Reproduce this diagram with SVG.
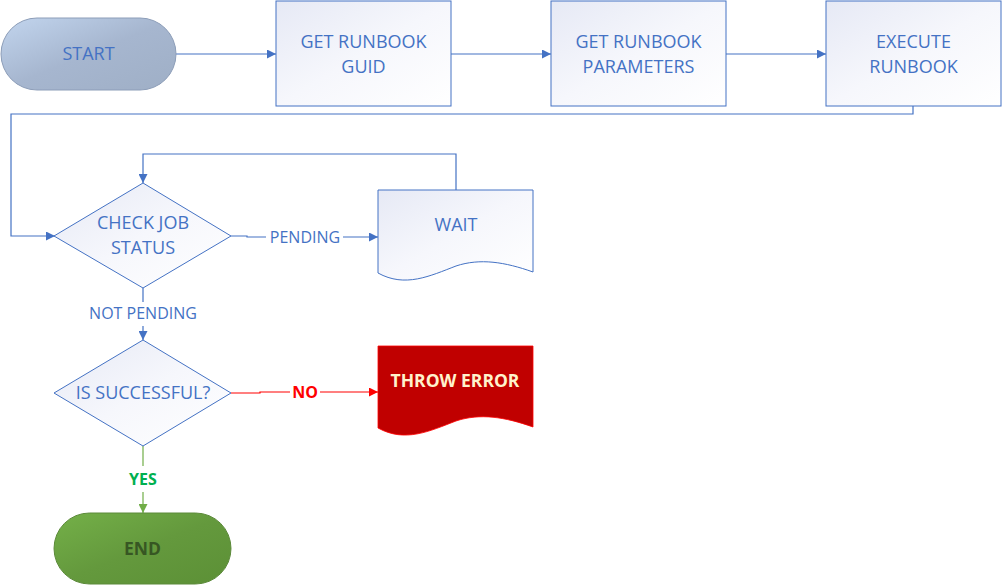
<svg xmlns="http://www.w3.org/2000/svg" width="1003" height="585" viewBox="0 0 1003 585">
<defs>
<linearGradient id="gBox" x1="0" y1="0" x2="1" y2="1">
<stop offset="0" stop-color="#E6E9F5"/><stop offset="0.5" stop-color="#F6F7FC"/><stop offset="1" stop-color="#FFFFFF"/>
</linearGradient>
<linearGradient id="gStart" x1="0" y1="0" x2="1" y2="1">
<stop offset="0" stop-color="#C2D5EE"/><stop offset="0.5" stop-color="#A6B6CF"/><stop offset="1" stop-color="#9FAFC6"/>
</linearGradient>
<linearGradient id="gEnd" x1="0" y1="0" x2="1" y2="1">
<stop offset="0" stop-color="#74B048"/><stop offset="0.5" stop-color="#64993D"/><stop offset="1" stop-color="#5C9036"/>
</linearGradient>
<marker id="aBlue" viewBox="0 0 10 10" refX="10" refY="5" markerWidth="9" markerHeight="9" markerUnits="userSpaceOnUse" orient="auto"><path d="M0,0 L10,5 L0,10 z" fill="#4472C4"/></marker>
<marker id="aRed" viewBox="0 0 10 10" refX="10" refY="5" markerWidth="9" markerHeight="9" markerUnits="userSpaceOnUse" orient="auto"><path d="M0,0 L10,5 L0,10 z" fill="#FF0000"/></marker>
<marker id="aGreen" viewBox="0 0 10 10" refX="10" refY="5" markerWidth="9" markerHeight="9" markerUnits="userSpaceOnUse" orient="auto"><path d="M0,0 L10,5 L0,10 z" fill="#70AD47"/></marker>
</defs>
<style>
.t{font-family:"Open Sans","Noto Sans",sans-serif;font-size:18px;fill:#4472C4;text-anchor:middle}
.box{fill:url(#gBox);stroke:#4472C4;stroke-width:1}
.c{fill:none;stroke:#4472C4;stroke-width:1.2}
.lbl{font-family:"Open Sans","Noto Sans",sans-serif;font-size:16px;text-anchor:middle}
</style>
<rect width="1003" height="585" fill="#FFFFFF"/>
<g id="connectors">
<line class="c" x1="176" y1="54" x2="276" y2="54" marker-end="url(#aBlue)"/>
<line class="c" x1="451" y1="54" x2="551" y2="54" marker-end="url(#aBlue)"/>
<line class="c" x1="726" y1="54" x2="826" y2="54" marker-end="url(#aBlue)"/>
<polyline class="c" points="913,106 913,114 11,114 11,236 55,236" marker-end="url(#aBlue)"/>
<polyline class="c" points="456,190 456,154 143,154 143,183" marker-end="url(#aBlue)"/>
<polyline class="c" points="231,236 247,236 247,237 266,237"/>
<polyline class="c" points="343,237 378,237" marker-end="url(#aBlue)"/>
<text class="lbl" x="305" y="243" fill="#4472C4">PENDING</text>
<line class="c" x1="143" y1="288" x2="143" y2="302"/>
<text class="lbl" x="143" y="319" fill="#4472C4">NOT PENDING</text>
<line class="c" x1="143" y1="326" x2="143" y2="340" marker-end="url(#aBlue)"/>
<polyline points="231,393 260,393 260,392 290,392" fill="none" stroke="#FF0000" stroke-width="1.2"/>
<polyline points="320,392 378,392" fill="none" stroke="#FF0000" stroke-width="1.2" marker-end="url(#aRed)"/>
<text class="lbl" x="305" y="398" fill="#FF0000" font-weight="bold">NO</text>
<line x1="143" y1="446" x2="143" y2="466" stroke="#70AD47" stroke-width="1.2"/>
<text class="lbl" x="143" y="485" fill="#00B050" font-weight="bold">YES</text>
<line x1="143" y1="492" x2="143" y2="513" stroke="#70AD47" stroke-width="1.2" marker-end="url(#aGreen)"/>
</g>
<g id="start">
<rect x="1" y="18" width="175" height="72" rx="36" fill="url(#gStart)" stroke="#8C9DB8" stroke-width="1"/>
<text class="t" x="88.5" y="60">START</text>
</g>
<g id="get-guid">
<rect class="box" x="276" y="1" width="175" height="105"/>
<text class="t" x="363.5" y="48">GET RUNBOOK</text>
<text class="t" x="363.5" y="73">GUID</text>
</g>
<g id="get-params">
<rect class="box" x="551" y="1" width="175" height="105"/>
<text class="t" x="638.5" y="48">GET RUNBOOK</text>
<text class="t" x="638.5" y="73">PARAMETERS</text>
</g>
<g id="execute">
<rect class="box" x="826" y="1" width="175" height="105"/>
<text class="t" x="913.5" y="48">EXECUTE</text>
<text class="t" x="913.5" y="73">RUNBOOK</text>
</g>
<g id="check-status">
<polygon class="box" points="54,236 143,183 231,236 143,288"/>
<text class="t" x="143" y="229">CHECK JOB</text>
<text class="t" x="143" y="254">STATUS</text>
</g>
<g id="wait">
<path class="box" d="M378,190 H533 V272 C505,262 480,258 456,266 C430,276 405,288 378,273 Z"/>
<text class="t" x="456" y="231">WAIT</text>
</g>
<g id="is-successful">
<polygon class="box" points="54,393 143,340 231,393 143,446"/>
<text class="t" x="143" y="399">IS SUCCESSFUL?</text>
</g>
<g id="throw-error">
<path d="M378,346 H533 V427 C505,417 480,413 456,421 C430,431 405,443 378,428 Z" fill="#C00000" stroke="#FF0000" stroke-width="0.8"/>
<text x="455" y="387" font-family="'Open Sans','Noto Sans',sans-serif" font-size="17.5" font-weight="bold" fill="#FFF2CC" text-anchor="middle">THROW ERROR</text>
</g>
<g id="end">
<rect x="54" y="513" width="177" height="71" rx="35.5" fill="url(#gEnd)" stroke="#5C8A3A" stroke-width="1"/>
<text x="142.5" y="555" font-family="'Open Sans','Noto Sans',sans-serif" font-size="17.5" font-weight="bold" fill="#375623" text-anchor="middle">END</text>
</g>
</svg>
